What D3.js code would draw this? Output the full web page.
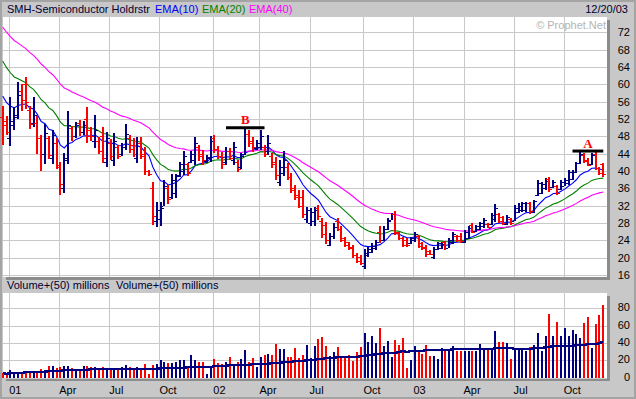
<!DOCTYPE html>
<html>
<head>
<meta charset="utf-8">
<script src="https://cdn.jsdelivr.net/npm/d3@7/dist/d3.min.js"></script>
<style>
  html, body { margin: 0; padding: 0; background: #c8c8c8; overflow: hidden; }
  svg { display: block; font-family: "Liberation Sans", Arial, sans-serif; font-size: 11px; }
</style>
</head>
<body>
<div id="chart"></div>
<script>
// weekly bars, week of Mon 2000-12-18 .. week of Mon 2003-12-15
const firstWeek = new Date(2000, 11, 18)
const lastWeek = new Date(2003, 11, 15)

const highs = [
  55.0, 52.7, 57.1, 54.7, 60.6, 60.1, 61.6, 55.0, 57.1, 52.7, 48.3, 50.8, 48.1, 49.5, 47.5, 42.1, 44.1, 53.9, 50.4, 51.4,
  51.8, 51.6, 54.7, 50.2, 52.9, 47.9, 50.1, 49.1, 47.3, 48.8, 46.0, 46.4, 50.8, 48.3, 47.5, 47.9, 47.8, 45.6, 40.2, 37.5,
  32.9, 32.9, 37.9, 36.8, 39.2, 39.3, 42.1, 44.6, 41.8, 44.6, 47.8, 46.1, 44.8, 43.7, 48.1, 48.3, 45.8, 44.4, 45.6, 45.2,
  46.8, 42.5, 44.2, 49.8, 49.5, 47.9, 47.1, 49.5, 46.0, 48.3, 44.1, 43.3, 42.5, 44.5, 41.8, 39.5, 36.8, 35.5, 35.5, 31.8,
  31.4, 31.8, 32.2, 29.1, 28.3, 25.6, 27.9, 29.1, 27.2, 24.8, 23.7, 22.9, 21.0, 20.6, 21.9, 22.5, 23.3, 24.1, 27.2, 27.2,
  29.1, 30.4, 30.8, 26.0, 24.8, 24.5, 24.8, 26.0, 25.2, 23.7, 22.9, 21.8, 22.5, 23.7, 23.5, 23.9, 24.5, 26.0, 25.2, 25.6,
  26.4, 27.2, 27.9, 27.5, 28.3, 29.1, 27.9, 30.2, 32.4, 30.2, 29.5, 29.8, 29.1, 32.1, 32.5, 32.9, 32.9, 32.9, 33.3, 37.9,
  37.5, 38.3, 38.7, 37.9, 36.8, 37.9, 38.3, 40.2, 40.2, 42.1, 44.5, 44.1, 42.9, 44.1, 44.5, 41.0, 41.9
]
const lows = [
  46.0, 48.3, 45.8, 49.5, 52.1, 53.9, 54.2, 49.8, 50.1, 43.9, 40.1, 41.6, 42.7, 41.6, 40.4, 34.5, 34.8, 41.6, 47.0, 47.8,
  48.1, 48.3, 46.5, 47.0, 45.2, 43.9, 41.9, 41.1, 42.5, 41.1, 42.7, 43.5, 44.8, 44.1, 43.1, 41.8, 42.7, 39.1, 38.8, 27.5,
  27.1, 27.3, 31.8, 32.5, 33.5, 33.7, 38.7, 39.1, 38.7, 41.8, 41.4, 42.5, 41.4, 41.8, 42.1, 44.1, 42.9, 40.4, 41.4, 42.5,
  41.4, 39.8, 40.6, 43.7, 45.6, 44.5, 44.8, 44.8, 43.3, 43.7, 40.6, 37.9, 36.4, 38.7, 37.9, 34.8, 33.3, 31.3, 29.1, 28.2,
  27.2, 27.5, 28.7, 24.5, 23.3, 22.5, 24.1, 26.0, 23.5, 22.5, 21.8, 19.8, 18.7, 18.3, 17.3, 20.2, 21.0, 21.8, 23.3, 23.7,
  26.4, 28.7, 25.2, 24.1, 22.5, 22.5, 23.3, 23.7, 22.2, 21.8, 20.2, 20.6, 19.8, 21.8, 22.0, 21.8, 22.1, 23.3, 23.7, 23.3,
  23.3, 24.1, 25.6, 26.0, 26.4, 26.8, 26.8, 27.5, 28.3, 27.9, 27.5, 27.5, 27.5, 28.3, 30.2, 30.6, 30.6, 30.2, 30.2, 34.1,
  34.8, 35.6, 35.2, 36.0, 34.5, 35.6, 36.4, 36.8, 37.9, 39.5, 41.4, 41.8, 41.0, 41.4, 40.2, 39.1, 38.7
]
const opens = [
  52.5, 51.5, 47.5, 50.5, 53.0, 58.5, 60.0, 54.0, 51.0, 51.0, 47.5, 44.0, 47.5, 43.0, 46.5, 41.0, 36.0, 43.0, 50.0, 48.0,
  51.0, 49.0, 52.0, 49.5, 47.0, 47.0, 48.0, 42.0, 46.5, 42.5, 45.5, 44.0, 45.5, 47.5, 46.0, 43.0, 46.5, 44.0, 40.0, 36.0,
  28.5, 29.0, 32.0, 36.0, 34.0, 35.0, 39.0, 40.0, 41.5, 42.0, 42.5, 45.5, 44.0, 42.2, 43.0, 47.5, 45.0, 43.5, 42.0, 44.5,
  42.5, 42.0, 41.0, 44.0, 48.5, 47.0, 45.2, 45.5, 45.5, 44.5, 43.5, 42.0, 37.5, 39.5, 41.0, 38.5, 36.0, 34.5, 34.0, 29.0,
  28.0, 28.5, 31.5, 28.5, 27.5, 23.0, 25.0, 28.5, 26.5, 24.5, 23.5, 22.5, 20.7, 20.2, 18.0, 20.5, 21.3, 22.2, 26.0, 24.0,
  26.6, 28.8, 30.0, 25.7, 24.5, 24.0, 23.4, 24.0, 25.0, 23.4, 22.5, 21.6, 20.2, 22.0, 22.2, 23.5, 22.3, 23.5, 25.0, 25.0,
  23.7, 24.5, 27.5, 26.2, 26.7, 27.2, 27.7, 27.8, 29.0, 30.0, 29.3, 27.8, 28.9, 28.5, 30.5, 31.0, 31.0, 32.5, 30.6, 34.5,
  35.0, 36.0, 38.2, 36.2, 36.5, 35.8, 36.6, 37.2, 38.2, 39.8, 41.8, 43.8, 42.6, 41.6, 44.0, 40.8, 41.5
]
const closes = [
  50.6, 49.0, 51.5, 52.5, 57.5, 56.4, 56.0, 50.8, 52.9, 47.5, 44.0, 48.7, 43.7, 48.3, 41.4, 37.1, 42.5, 50.5, 48.0, 50.5,
  49.0, 50.5, 48.0, 48.0, 49.5, 44.5, 43.0, 47.5, 43.5, 47.0, 43.5, 45.5, 48.5, 45.0, 44.0, 46.5, 43.5, 40.0, 39.2, 29.5,
  31.0, 31.5, 36.5, 33.5, 38.0, 38.8, 41.5, 43.5, 39.5, 44.0, 46.5, 43.5, 42.5, 43.3, 47.0, 45.0, 43.5, 41.5, 44.5, 43.0,
  45.5, 40.5, 43.5, 48.5, 46.5, 45.5, 46.5, 48.0, 44.0, 46.5, 41.5, 39.0, 41.0, 42.5, 38.5, 35.5, 34.0, 32.0, 30.0, 31.0,
  30.5, 31.0, 29.5, 25.5, 24.0, 25.0, 27.0, 26.5, 24.0, 23.0, 22.3, 20.5, 19.2, 18.8, 21.0, 22.0, 22.8, 23.7, 24.0, 26.5,
  28.5, 30.0, 26.0, 24.5, 23.0, 23.0, 24.5, 25.5, 22.8, 22.2, 20.8, 20.8, 22.0, 23.3, 23.2, 22.2, 24.0, 25.5, 24.0, 23.8,
  26.0, 26.8, 26.0, 27.2, 28.0, 28.7, 27.0, 29.8, 31.5, 28.5, 28.0, 29.3, 28.0, 31.5, 32.0, 32.5, 32.5, 30.7, 33.0, 37.2,
  37.0, 37.8, 35.8, 37.5, 35.0, 37.5, 38.0, 39.8, 39.8, 41.8, 44.0, 42.2, 41.3, 43.8, 40.8, 39.6, 39.2
]
// volume, millions
const volumes = [
  5.0, 3.1, 8.9, 5.0, 6.9, 6.9, 6.2, 6.2, 6.2, 7.7, 10.0, 8.9, 13.5, 13.5, 10.8, 12.7, 13.5, 13.1, 10.8, 10.0,
  8.9, 13.5, 13.9, 12.7, 12.7, 11.6, 12.7, 8.9, 10.8, 10.8, 11.6, 12.7, 14.6, 12.7, 10.8, 12.7, 10.8, 15.8, 3.9, 14.6,
  15.4, 20.4, 18.5, 16.5, 17.3, 18.5, 20.4, 20.4, 13.9, 26.2, 20.4, 17.7, 17.7, 3.9, 11.6, 21.1, 16.5, 15.8, 17.7, 23.9,
  15.4, 17.7, 21.5, 31.9, 18.5, 23.1, 12.7, 24.2, 26.2, 26.9, 26.2, 38.4, 33.1, 33.1, 24.2, 24.2, 34.6, 23.1, 26.2, 37.7,
  22.3, 36.9, 44.6, 47.3, 36.5, 25.4, 29.2, 35.8, 24.2, 25.0, 26.2, 19.2, 29.2, 35.8, 51.1, 40.8, 48.1, 39.6, 56.9, 36.5,
  42.3, 24.2, 43.4, 37.7, 46.1, 11.6, 20.4, 36.5, 29.2, 27.3, 37.7, 25.4, 25.4, 21.5, 33.8, 31.1, 31.1, 36.5, 30.8, 30.8,
  30.8, 30.8, 30.8, 30.8, 38.4, 33.8, 32.7, 33.8, 53.8, 41.5, 41.5, 39.6, 21.5, 33.8, 31.9, 31.9, 30.8, 35.8, 37.7, 51.1,
  30.8, 48.1, 73.4, 48.1, 63.8, 48.1, 56.9, 48.1, 55.0, 50.4, 45.4, 62.6, 69.6, 34.6, 61.5, 72.3, 83.8
]

const priceTicks = [16, 20, 24, 28, 32, 36, 40, 44, 48, 52, 56, 60, 64, 68, 72]
const volumeTicks = [0, 20, 40, 60, 80]
const monthLabels = ["01", "Apr", "Jul", "Oct", "02", "Apr", "Jul", "Oct", "03", "Apr", "Jul", "Oct"]

// EMA values at the first bar (earlier history not shown)
const emaPeriods = [10, 20, 40]
const emaStart = [57.3, 65.4, 73.2]
const emaColors = ["#0000ff", "#008000", "#ff00ff"]

const annLabels = ["B", "A"]
const annFrom = [58, 148]
const annTo = [68, 156]
const annPrice = [50.0, 44.6]

const width = 636, height = 399
const up = "#000080", down = "#ff0000"

const weeks = d3.timeMonday.range(firstWeek, d3.timeDay.offset(lastWeek, 1))
const bars = weeks.map((w, i) => ({
  i: i, date: w, o: opens[i], h: highs[i], l: lows[i], c: closes[i], v: volumes[i]
}))

function ema(period, start) {
  const k = 2 / (period + 1)
  let e = start
  return closes.map((c, i) => {
    if (i > 0) e = c * k + e * (1 - k)
    return e
  })
}

function sma(values, n) {
  return values.map((v, i) => d3.mean(values.slice(Math.max(0, i - n + 1), i + 1)))
}

// first bar of each quarter month
const quarterIdx = bars.filter((b, i) =>
  b.date.getMonth() % 3 === 0 && i > 0 && bars[i - 1].date.getMonth() !== b.date.getMonth()
).map(b => b.i)

const P = { left: 3, right: 607, top: 17, bottom: 277 }
const V = { top: 293, bottom: 378 }

const x = d3.scaleLinear().domain([0, bars.length - 1]).range([2.7, 603.3])
const y = d3.scaleLinear().domain([16, 72]).range([275, 32.3])
const yv = d3.scaleLinear().domain([0, 80]).range([377.7, 308.3])
const px = v => Math.round(v) + 0.5

const svg = d3.select("#chart").append("svg")
  .attr("width", width)
  .attr("height", height)

svg.append("rect").attr("width", width).attr("height", height).attr("fill", "#c8c8c8")

// outer frame
svg.append("rect")
  .attr("x", 1).attr("y", 1).attr("width", width - 2).attr("height", height - 2)
  .attr("fill", "none").attr("stroke", "#a4a4a4").attr("stroke-width", 2)

// panels with shadow
function panel(top, bottom) {
  svg.append("rect")
    .attr("x", P.left + 3).attr("y", top + 3)
    .attr("width", P.right - P.left).attr("height", bottom - top)
    .attr("fill", "#8c8c8c")
  svg.append("rect")
    .attr("x", P.left).attr("y", top)
    .attr("width", P.right - P.left).attr("height", bottom - top)
    .attr("fill", "#ffffff")
}
panel(P.top, P.bottom)
panel(V.top, V.bottom)

const grid = svg.append("g")
  .attr("stroke", "#c8c8c8")
  .attr("stroke-width", 1)
  .attr("shape-rendering", "crispEdges")

grid.selectAll(".hp").data(priceTicks).join("line")
  .attr("x1", P.left).attr("x2", P.right)
  .attr("y1", d => px(y(d))).attr("y2", d => px(y(d)))

grid.selectAll(".hv").data(volumeTicks).join("line")
  .attr("class", "hv")
  .attr("x1", P.left).attr("x2", P.right)
  .attr("y1", d => px(yv(d))).attr("y2", d => px(yv(d)))

quarterIdx.forEach(i => {
  const gx = px(x(i - 0.3))
  grid.append("line").attr("x1", gx).attr("x2", gx).attr("y1", P.top).attr("y2", P.bottom)
  grid.append("line").attr("x1", gx).attr("x2", gx).attr("y1", V.top).attr("y2", V.bottom)
})

// watermark
svg.append("text")
  .attr("x", 606).attr("y", 29)
  .attr("text-anchor", "end")
  .attr("fill", "#b4b4b4")
  .text("© Prophet.Net")

// EMA lines
const line = d3.line().x((d, i) => x(i)).y(d => y(d))
emaPeriods.forEach((p, k) => {
  svg.append("path")
    .datum(ema(p, emaStart[k]))
    .attr("fill", "none")
    .attr("stroke", emaColors[k])
    .attr("stroke-width", 1.1)
    .attr("d", line)
})

// OHLC bars
const colorOf = d => d.c >= d.o ? up : down
const ohlc = svg.append("g").attr("class", "ohlc").attr("shape-rendering", "crispEdges")
const g = ohlc.selectAll("g").data(bars).join("g")
  .attr("fill", colorOf)
g.append("rect")
  .attr("x", d => Math.round(x(d.i)) - 1).attr("width", 2)
  .attr("y", d => Math.round(y(d.h))).attr("height", d => Math.max(1, Math.round(y(d.l) - y(d.h))))
g.append("rect")
  .attr("x", d => Math.round(x(d.i)) - 3).attr("width", 2)
  .attr("y", d => Math.round(y(d.o))).attr("height", 1)
g.append("rect")
  .attr("x", d => Math.round(x(d.i)) + 1).attr("width", 2)
  .attr("y", d => Math.round(y(d.c))).attr("height", 1)

// annotations
annLabels.forEach((t, k) => {
  const yy = y(annPrice[k])
  svg.append("line")
    .attr("x1", x(annFrom[k])).attr("x2", x(annTo[k]))
    .attr("y1", yy).attr("y2", yy)
    .attr("stroke", "#000").attr("stroke-width", 3)
  svg.append("text")
    .attr("x", (x(annFrom[k]) + x(annTo[k])) / 2)
    .attr("y", yy - 3.5)
    .attr("text-anchor", "middle")
    .attr("fill", "#ff0000")
    .style("font-family", "'Liberation Serif', 'Times New Roman', serif")
    .style("font-weight", "bold")
    .style("font-size", "13px")
    .text(t)
})

// volume bars + 50 week average
svg.append("g").attr("shape-rendering", "crispEdges")
  .selectAll("rect").data(bars).join("rect")
  .attr("x", d => Math.round(x(d.i)) - 1).attr("width", 2)
  .attr("y", d => yv(d.v)).attr("height", d => yv(0) - yv(d.v))
  .attr("fill", colorOf)

svg.append("path")
  .datum(sma(volumes, 50))
  .attr("fill", "none")
  .attr("stroke", up)
  .attr("stroke-width", 2)
  .attr("shape-rendering", "crispEdges")
  .attr("d", d3.line().x((d, i) => x(i)).y(d => yv(d)).curve(d3.curveStep))

// right axes
svg.append("g").selectAll("text").data(priceTicks).join("text")
  .attr("x", 630).attr("y", d => y(d) + 4)
  .attr("text-anchor", "end")
  .attr("fill", "#000")
  .text(d => d)

svg.append("g").selectAll("text").data(volumeTicks).join("text")
  .attr("x", 630).attr("y", d => yv(d) + 3)
  .attr("text-anchor", "end")
  .attr("fill", "#000")
  .text(d => d)

// date axis
svg.append("g").selectAll("text").data(quarterIdx).join("text")
  .attr("x", d => x(d - 0.3))
  .attr("y", 393.5)
  .attr("fill", "#000")
  .text((d, i) => monthLabels[i])

// headers
const header = svg.append("text").attr("y", 12.5)
header.append("tspan").attr("x", 7).attr("fill", "#000033").text("SMH-Semiconductor Holdrstr")
header.append("tspan").attr("x", 155).attr("fill", emaColors[0]).text("EMA(10)")
header.append("tspan").attr("x", 202).attr("fill", emaColors[1]).text("EMA(20)")
header.append("tspan").attr("x", 249).attr("fill", emaColors[2]).text("EMA(40)")

svg.append("text")
  .attr("x", 628).attr("y", 12.5)
  .attr("text-anchor", "end")
  .attr("fill", "#000033")
  .text("12/20/03")

const vh = svg.append("text").attr("y", 289).attr("fill", "#000033")
vh.append("tspan").attr("x", 7).text("Volume+(50) millions")
vh.append("tspan").attr("x", 116).text("Volume+(50) millions")
</script>
</body>
</html>
